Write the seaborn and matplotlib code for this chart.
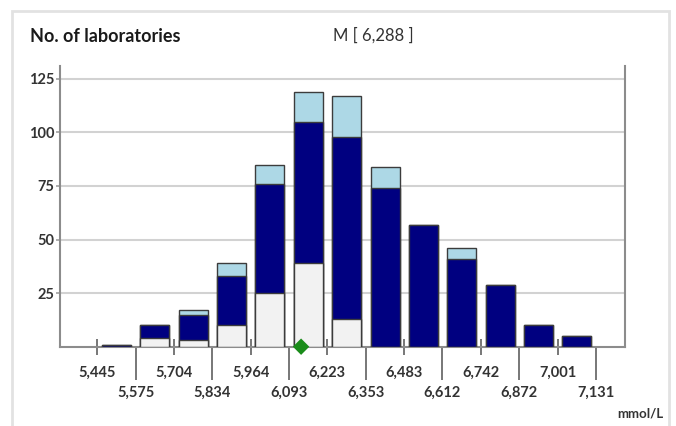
import numpy as np
import pandas as pd
import matplotlib
matplotlib.use("Agg")
import matplotlib.pyplot as plt
import seaborn as sns
from matplotlib.patches import Rectangle

# ---------------- data ----------------
tick_labels = ["5,445", "5,575", "5,704", "5,834", "5,964", "6,093", "6,223",
               "6,353", "6,483", "6,612", "6,742", "6,872", "7,001", "7,131"]
gray_counts = [0, 4, 3, 10, 25, 39, 13, 0, 0, 0, 0, 0, 0]
navy_counts = [1, 6, 12, 23, 51, 66, 85, 74, 57, 41, 29, 10, 5]
light_counts = [0, 0, 2, 6, 9, 14, 19, 10, 0, 5, 0, 0, 0]
y_ticks = [25, 50, 75, 100, 125]
marker_value = 6.134
title_text = "No. of laboratories"
median_text = "M [ 6,288 ]"
unit_text = "mmol/L"

# ---------------- style ----------------
sns.set_style("white")
plt.rcParams["font.family"] = ["Lato", "DejaVu Sans"]

W, H = 676, 426
edges = np.array([float(s.replace(",", ".")) for s in tick_labels])
centers = (edges[:-1] + edges[1:]) / 2
g = np.array(gray_counts)
n = np.array(navy_counts)
l = np.array(light_counts)
df = pd.DataFrame({"center": centers, "low": g, "mid": g + n, "top": g + n + l})

fig = plt.figure(figsize=(W / 100, H / 100), dpi=100)
fig.patch.set_facecolor("white")
ax = fig.add_axes([60 / W, 1 - 346.7 / H, (625 - 60) / W, (346.7 - 66) / H])

for col, color in [("top", "#ADD8E6"), ("mid", "#000080"), ("low", "#F2F2F2")]:
    sns.barplot(data=df, x="center", y=col, native_scale=True, width=0.76,
                color=color, saturation=1, edgecolor="#3c3c3c", linewidth=1.0,
                errorbar=None, ax=ax, zorder=3)

sns.scatterplot(x=[marker_value], y=[0], marker="D", s=70, color="#1a8c1a",
                edgecolor="none", ax=ax, zorder=6, clip_on=False)

ax.set_xlabel("")
ax.set_ylabel("")
ax.set_xlim(5.319, 7.229)
ax.set_ylim(0, 131)

# y axis
ax.set_yticks(y_ticks)
ax.set_yticklabels([str(v) for v in y_ticks])
ax.tick_params(axis="y", which="major", left=True, direction="out", length=3, width=1.2,
               color="#a0a0a0", pad=1, labelsize=10.5, labelcolor="#333333")
for t in ax.get_yticklabels():
    t.set_fontweight("bold")
ax.set_axisbelow(True)
ax.yaxis.grid(True, color="#d2d2d2", linewidth=1.5)
ax.xaxis.grid(False)

# x axis: alternating rows
major_idx = list(range(0, len(tick_labels), 2))
minor_idx = list(range(1, len(tick_labels), 2))
ax.set_xticks(edges[major_idx], labels=[tick_labels[i] for i in major_idx])
ax.set_xticks(edges[minor_idx], labels=[tick_labels[i] for i in minor_idx], minor=True)
ax.tick_params(axis="x", which="major", bottom=True, direction="inout", length=12, width=1.2,
               color="#606060", pad=7.5, labelsize=10.5, labelcolor="#333333")
ax.tick_params(axis="x", which="minor", bottom=True, direction="out", length=23.5, width=1.2,
               color="#606060", pad=5, labelsize=10.5, labelcolor="#333333")
for t in ax.get_xticklabels(which="both"):
    t.set_fontweight("bold")

for side in ["left", "right", "bottom"]:
    ax.spines[side].set_visible(True)
    ax.spines[side].set_color("#8c8c8c")
    ax.spines[side].set_linewidth(1.5)
ax.spines["top"].set_visible(False)

# panel border
fig.add_artist(Rectangle((12 / W, -0.05), (669 - 12) / W, 1.05 - 11 / H,
                         transform=fig.transFigure, fill=False,
                         edgecolor="#e2e2e2", linewidth=2))

fig.text(30 / W, 1 - 36 / H, title_text, fontsize=13, fontweight="bold",
         color="#1a1a1a", ha="left", va="center")
fig.text(333 / W, 1 - 35 / H, median_text, fontsize=12, color="#333333",
         ha="left", va="center")
fig.text(663 / W, 1 - 414 / H, unit_text, fontsize=9.5, fontweight="bold",
         color="#333333", ha="right", va="center")

fig.savefig("out.png", dpi=100, facecolor="white")
